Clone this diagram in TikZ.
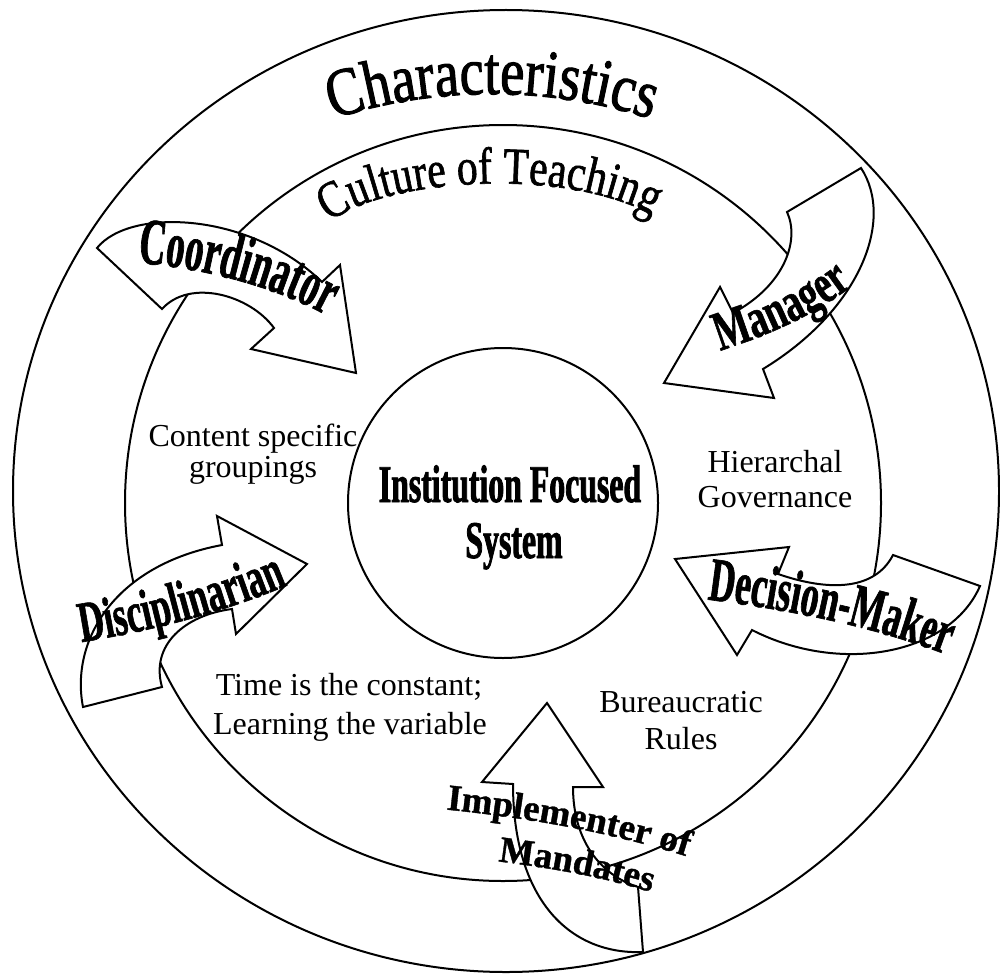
\documentclass[tikz,border=0pt]{standalone}
\usepackage{fontspec}
\setmainfont{Liberation Serif}
\newfontfamily\heavyA[FakeBold=1.5,FakeStretch=0.8]{Liberation Serif}
\newfontfamily\heavyB[FakeBold=1.2,FakeStretch=0.8]{Liberation Serif}
\newfontfamily\condCo[FakeStretch=0.56,FakeBold=1]{Liberation Serif}
\newfontfamily\condMa[FakeStretch=0.68,FakeBold=1]{Liberation Serif}
\newfontfamily\condDe[FakeStretch=0.58,FakeBold=1]{Liberation Serif}
\newfontfamily\condDi[FakeStretch=0.61,FakeBold=1]{Liberation Serif}
\newfontfamily\condIm[FakeBold=1]{Liberation Serif}
\newfontfamily\condC[FakeStretch=0.6,FakeBold=1.5]{Liberation Serif}
\usetikzlibrary{decorations.text}
\begin{document}
\begin{tikzpicture}[x=0.5pt,y=-0.5pt, line width=1pt,
  ring/.style={draw=black},
  bigarrow/.style={draw=black, fill=white, line join=miter},
  plain/.style={font=\fontsize{16}{19}\selectfont, anchor=base, inner sep=0pt},
  coretext/.style={font=\condC\bfseries\fontsize{26.5}{28}\selectfont, anchor=base, inner sep=0pt},
]
\useasboundingbox (0,0) rectangle (1000,974);
% rings
\draw[ring] (506,491) ellipse [x radius=493, y radius=481];
\draw[ring] (503,503) circle [radius=378];
\node[circle, draw, minimum size=155pt, inner sep=0pt] (core) at (503,503) {};
% curved block arrows
\draw[bigarrow] (97,248) .. controls (130,207) and (250,212) .. (322,282) -- (340,265) -- (356,373) -- (251,349) -- (274,328) .. controls (250,295) and (190,278) .. (162,309) -- cycle;
\draw[bigarrow] (787,212) -- (861,168) .. controls (895,220) and (860,310) .. (763,369) -- (774,398) -- (664,383) -- (720,287) -- (733,313) .. controls (785,285) and (800,240) .. (787,212) -- cycle;
\draw[bigarrow] (893,555) -- (980,586) .. controls (950,655) and (840,675) .. (752,630) -- (737,655) -- (675,559) -- (789,547) -- (778,574) .. controls (830,592) and (875,590) .. (893,555) -- cycle;
\draw[bigarrow] (83,707) .. controls (70,640) and (115,565) .. (222,545) -- (217,516) -- (307,564) -- (236,634) -- (232,609) .. controls (185,615) and (150,645) .. (162,687) -- cycle;
\draw[bigarrow] (547,703) -- (603,787) -- (573,787) .. controls (573,840) and (600,875) .. (638,887) -- (643,952) .. controls (570,955) and (513,900) .. (513,784) -- (482,782) -- cycle;
% curved titles
\path[decorate, decoration={text along path, text align=center, text={|\heavyA\fontsize{34}{36}\selectfont|Characteristics}}] (492,614) ++(250:520) arc[start angle=250, end angle=290, radius=520];
\path[decorate, decoration={text along path, text align=center, text={|\heavyB\fontsize{26}{28}\selectfont|Culture of Teaching}}] (330,222) .. controls (382,180) and (560,165) .. (652,215);
% arrow labels
\path[decorate, decoration={text along path, text align=center, text={|\condCo\bfseries\fontsize{33}{35}\selectfont|Coordinator}}] (140,263) .. controls (200,268) and (270,285) .. (324,314);
\path[decorate, decoration={text along path, text align=center, text={|\condMa\bfseries\fontsize{28}{30}\selectfont|Manager}}] (716,352) .. controls (770,335) and (815,315) .. (856,283);
\path[decorate, decoration={text along path, text align=center, text={|\condDe\bfseries\fontsize{31}{33}\selectfont|Decision-Maker}}] (703,599) .. controls (800,611) and (880,629) .. (950,656);
\path[decorate, decoration={text along path, text align=center, text={|\condDi\bfseries\fontsize{29}{31}\selectfont|Disciplinarian}}] (76,643) .. controls (160,630) and (230,610) .. (293,583);
\path[decorate, decoration={text along path, text align=center, text={|\condIm\bfseries\fontsize{18.5}{20}\selectfont|Implementer of}}] (441,809) .. controls (530,818) and (610,832) .. (692,858);
\path[decorate, decoration={text along path, text align=center, text={|\condIm\bfseries\fontsize{18.5}{20}\selectfont|Mandates}}] (495,861) .. controls (550,868) and (600,876) .. (654,893);
% centre text
\node[coretext] (core1) at (510,502) {Institution Focused};
\node[coretext] (core2) at (514,558) {System};
% plain texts
\node[plain] (csg1) at (253,446) {Content specific};
\node[plain] (csg2) at (253,477) {groupings};
\node[plain] (hg1) at (775,472) {Hierarchal};
\node[plain] (hg2) at (775,507) {Governance};
\node[plain] (tc1) at (349,695) {Time is the constant;};
\node[plain] (tc2) at (350,734) {Learning the variable};
\node[plain] (br1) at (681,712) {Bureaucratic};
\node[plain] (br2) at (681,749) {Rules};
\end{tikzpicture}
\end{document}
